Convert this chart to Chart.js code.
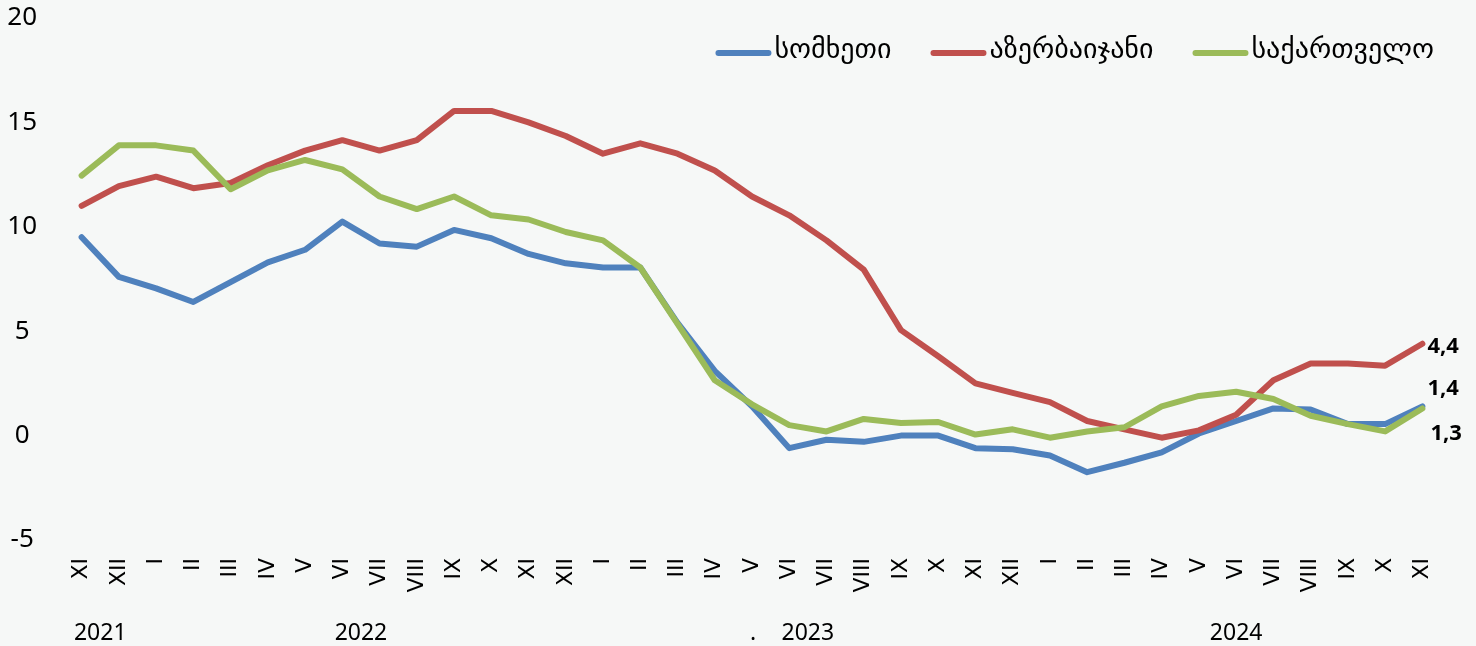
<!DOCTYPE html>
<html>
<head>
<meta charset="utf-8">
<script src="https://cdn.jsdelivr.net/npm/chart.js@4.4.1/dist/chart.umd.min.js"></script>
<style>
  html, body { margin: 0; padding: 0; background: #f6f8f7; }
  canvas { display: block; }
</style>
</head>
<body>
<canvas id="c" width="1476" height="646"></canvas>
<script>
// ---- data ----
const months = ['XI','XII',
  'I','II','III','IV','V','VI','VII','VIII','IX','X','XI','XII',
  'I','II','III','IV','V','VI','VII','VIII','IX','X','XI','XII',
  'I','II','III','IV','V','VI','VII','VIII','IX','X','XI'];

const yearLabels = ['2021', '2022', '2023', '2024'];
const yearFirstIndex = [0, 2, 14, 26];
const yearLastIndex = [1, 13, 25, 36];

const seriesNames = ['სომხეთი', 'აზერბაიჯანი', 'საქართველო'];

const armenia = [9.5, 7.6, 7.05, 6.4, 7.35, 8.3, 8.9, 10.25, 9.2, 9.05,
  9.85, 9.45, 8.7, 8.25, 8.05, 8.05, 5.4, 3.1, 1.4, -0.6,
  -0.2, -0.3, 0.0, 0.0, -0.6, -0.65, -0.95, -1.75, -1.3, -0.8,
  0.1, 0.7, 1.3, 1.25, 0.55, 0.55, 1.4];

const azerbaijan = [11.0, 11.95, 12.4, 11.85, 12.1, 12.95, 13.65, 14.15, 13.65, 14.15,
  15.55, 15.55, 15.0, 14.35, 13.5, 14.0, 13.5, 12.7, 11.45, 10.55,
  9.35, 7.95, 5.05, 3.8, 2.5, 2.05, 1.6, 0.7, 0.3, -0.1,
  0.25, 1.0, 2.65, 3.45, 3.45, 3.35, 4.4];

const georgia = [12.45, 13.9, 13.9, 13.65, 11.8, 12.7, 13.2, 12.75, 11.45, 10.85,
  11.45, 10.55, 10.35, 9.75, 9.35, 8.05, 5.35, 2.65, 1.5, 0.5,
  0.2, 0.8, 0.6, 0.65, 0.05, 0.3, -0.1, 0.2, 0.4, 1.4,
  1.9, 2.1, 1.75, 0.95, 0.55, 0.2, 1.3];

const yMin = -5, yMax = 20, yStep = 5;

// ---- styles ----
const colors = ['#4f81bd', '#c0504d', '#9bbb59'];
const numFont = "'Noto Sans', 'DejaVu Sans', sans-serif";
const romanFont = "'DejaVu Sans', sans-serif";
const geoFont = "'DejaVu Sans', 'Noto Sans', sans-serif";
const endLabelOffsets = [[5, -18], [5, 3], [8, 25]];

const bgPlugin = {
  id: 'bg',
  beforeDraw(chart) {
    const c = chart.ctx;
    c.save();
    c.fillStyle = '#f6f8f7';
    c.fillRect(0, 0, chart.width, chart.height);
    c.restore();
  }
};

const extrasPlugin = {
  id: 'extras',
  afterDatasetsDraw(chart) {
    const c = chart.ctx;
    c.save();
    // end labels
    c.font = "bold 22px " + numFont;
    c.fillStyle = '#000';
    c.textAlign = 'left';
    c.textBaseline = 'middle';
    chart.data.datasets.forEach((ds, i) => {
      const meta = chart.getDatasetMeta(i);
      const last = meta.data[meta.data.length - 1];
      const v = ds.data[ds.data.length - 1];
      const txt = v.toFixed(1).replace('.', ',');
      c.fillText(txt, last.x + endLabelOffsets[i][0], last.y + endLabelOffsets[i][1]);
    });

    // year labels
    const xs = chart.scales.x;
    c.font = "23px " + numFont;
    c.textAlign = 'center';
    c.textBaseline = 'middle';
    yearLabels.forEach((yl, i) => {
      const x = (xs.getPixelForValue(yearFirstIndex[i]) + xs.getPixelForValue(yearLastIndex[i])) / 2;
      c.fillText(yl, x, 633);
    });
    c.fillText('.', 753, 633);

    // legend
    c.font = "28px " + geoFont;
    c.textAlign = 'left';
    const lineLen = 56, gapText = 3, gapItem = 39;
    const widths = seriesNames.map(n => lineLen + gapText + c.measureText(n).width);
    const total = widths.reduce((a, b) => a + b, 0) + gapItem * (seriesNames.length - 1);
    let x = 1434 - total;
    const ly = 53;
    seriesNames.forEach((n, i) => {
      c.strokeStyle = colors[i];
      c.lineWidth = 6;
      c.lineCap = 'round';
      c.beginPath();
      c.moveTo(x + 3, ly);
      c.lineTo(x + lineLen - 3, ly);
      c.stroke();
      c.fillStyle = '#000';
      c.fillText(n, x + lineLen + gapText, ly - 2);
      x += widths[i] + gapItem;
    });
    c.restore();
  }
};

const datasets = [armenia, azerbaijan, georgia].map((d, i) => ({
  label: seriesNames[i],
  data: d,
  borderColor: colors[i],
  backgroundColor: colors[i],
  borderWidth: 6,
  pointRadius: 0,
  tension: 0,
  fill: false,
  borderJoinStyle: 'round',
  borderCapStyle: 'round',
  order: 3 - i
}));

function zeroPad(s) { s.paddingTop = 0; s.paddingBottom = 0; s.paddingLeft = 0; s.paddingRight = 0; }

new Chart(document.getElementById('c'), {
  type: 'line',
  data: { labels: months, datasets: datasets },
  options: {
    responsive: false,
    animation: false,
    devicePixelRatio: 1,
    layout: { padding: { top: 18, right: 35, left: 0, bottom: 0 } },
    plugins: { legend: { display: false }, tooltip: { enabled: false }, title: { display: false } },
    scales: {
      x: {
        offset: true,
        grid: { display: false, drawTicks: false },
        border: { display: false },
        ticks: {
          autoSkip: false, maxRotation: 90, minRotation: 90, padding: 18,
          color: '#000', font: { family: romanFont, size: 22 }
        },
        afterFit(s) { s.height = 106; zeroPad(s); }
      },
      y: {
        min: yMin, max: yMax,
        grid: { display: false, drawTicks: false },
        border: { display: false },
        ticks: {
          stepSize: yStep, padding: 26, crossAlign: 'center',
          color: '#000', font: { family: numFont, size: 26 }
        },
        afterFit(s) { s.width = 63; zeroPad(s); }
      }
    }
  },
  plugins: [bgPlugin, extrasPlugin]
});
</script>
</body>
</html>
